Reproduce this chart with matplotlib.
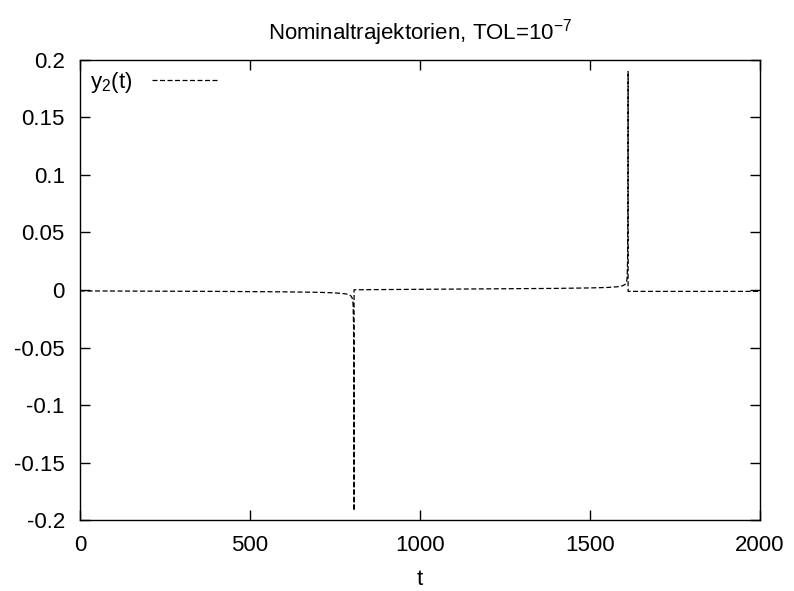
import matplotlib
matplotlib.use("Agg")
import matplotlib.pyplot as plt

plt.rcParams['font.family'] = ['Liberation Sans', 'DejaVu Sans']
plt.rcParams['mathtext.fontset'] = 'custom'
plt.rcParams['mathtext.rm'] = 'Liberation Sans'
plt.rcParams['mathtext.it'] = 'Liberation Sans'

# y2(t), three pieces between the two jumps
t1 = [0, 100, 200, 300, 400, 500, 600, 700, 750, 780, 792, 798, 801, 803, 804.5, 805.5, 806]
y1 = [-0.0008, -0.0009, -0.0010, -0.0011, -0.0012, -0.0014, -0.0016, -0.0020, -0.0025,
      -0.0033, -0.0042, -0.0055, -0.0075, -0.012, -0.03, -0.08, -0.192]

t2 = [806, 900, 1000, 1100, 1200, 1300, 1400, 1500, 1550, 1580, 1595, 1603, 1607, 1609, 1610.5, 1611.5, 1612]
y2 = [0.0002, 0.0004, 0.0006, 0.0008, 0.0010, 0.0012, 0.0014, 0.0018, 0.0022,
      0.0028, 0.0036, 0.0048, 0.0065, 0.010, 0.025, 0.07, 0.19]

t3 = [1612, 1700, 1800, 1900, 2000]
y3 = [-0.0012, -0.0012, -0.0012, -0.0012, -0.0012]

t_all = t1 + t2 + t3
y_all = y1 + y2 + y3

fs = 16

fig = plt.figure(figsize=(7.94, 5.91), dpi=100)
ax = fig.add_axes([0.1008, 0.1201, 0.8564, 0.7784])

ax.plot(t_all, y_all, color='black', lw=0.9, dashes=(4, 2), label='y$_2$(t)')

ax.set_xlim(0, 2000)
ax.set_ylim(-0.2, 0.2)
ax.set_xticks([0, 500, 1000, 1500, 2000])
ax.set_yticks([-0.2, -0.15, -0.1, -0.05, 0, 0.05, 0.1, 0.15, 0.2])
ax.set_yticklabels(['-0.2', '-0.15', '-0.1', '-0.05', '0', '0.05', '0.1', '0.15', '0.2'])
ax.tick_params(direction='in', length=7, width=1, top=True, right=True,
               labelsize=fs, pad=11)
for s in ax.spines.values():
    s.set_linewidth(1)

ax.set_xlabel('t', fontsize=fs, labelpad=9)
ax.set_title('Nominaltrajektorien, TOL=10$^{-7}$', fontsize=fs, pad=15)

ax.legend(loc='upper left', frameon=False, markerfirst=False, fontsize=fs,
          handlelength=2.9, handletextpad=0.9, borderaxespad=0.15, borderpad=0.3)

fig.savefig('out.png', dpi=100)
